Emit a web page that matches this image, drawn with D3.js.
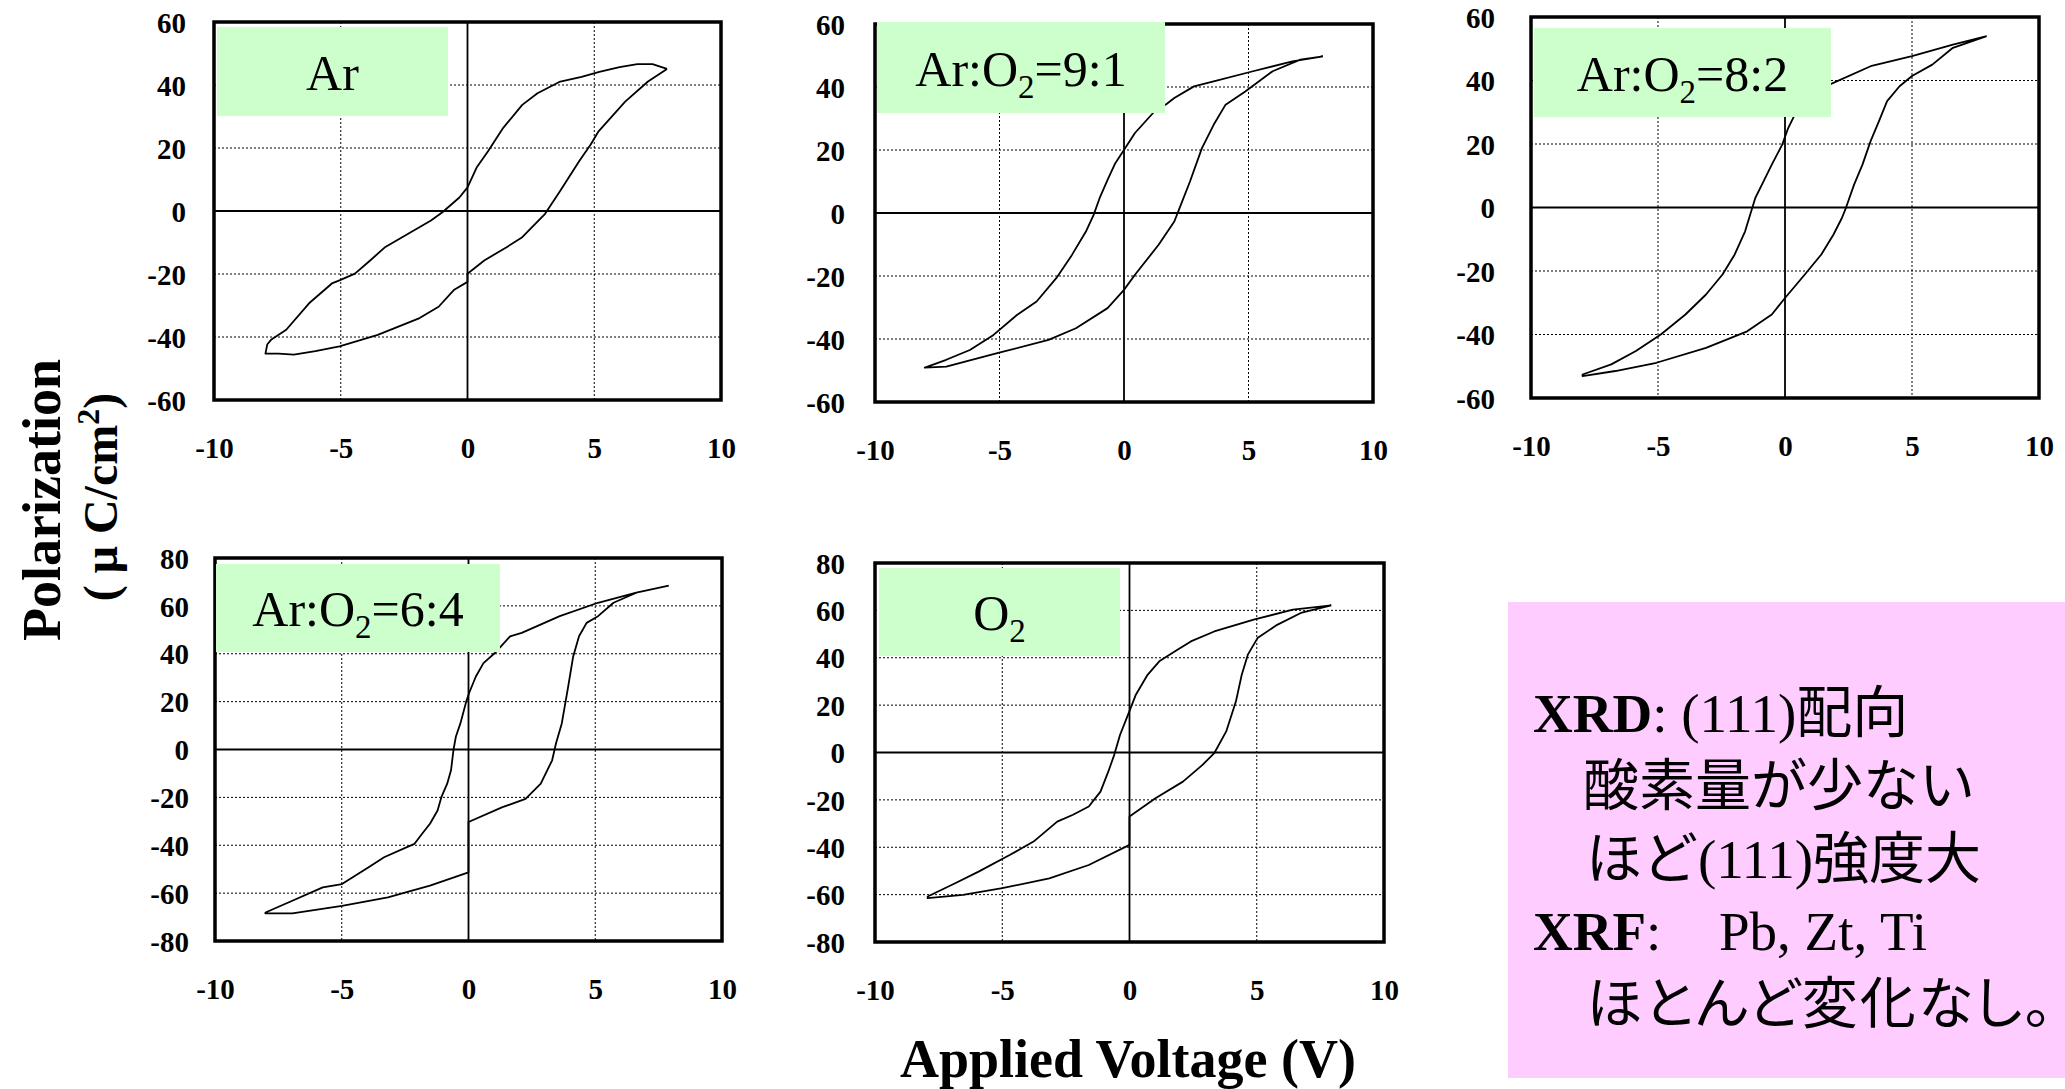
<!DOCTYPE html>
<html><head><meta charset="utf-8">
<script src="https://cdn.jsdelivr.net/npm/d3@7"></script>
<style>html,body{margin:0;padding:0;background:#fff;overflow:hidden}</style>
</head><body>
<svg id="c" width="2065" height="1089"></svg>
<script>
// ---------- data ----------
const xTicks = [-10, -5, 0, 5, 10];
const yTicksTop = [-60, -40, -20, 0, 20, 40, 60];
const yTicksBottom = [-80, -60, -40, -20, 0, 20, 40, 60, 80];

// [voltage V, polarization uC/cm2]; upper = descending branch, lower = ascending branch
const arUpper = [[7.87,45.1],[7.3,46.6],[6.7,46.6],[6.0,45.7],[5.2,44.2],[4.5,42.6],[3.66,41.1],[2.76,37.4],[2.16,33.7],[1.41,26.4],[0.81,19.0],[0.36,13.8],[0,7.5],[-0.32,4.3],[-0.99,-0.4],[-1.44,-3.0],[-2.34,-7.2],[-3.24,-11.4],[-3.84,-15.7],[-4.44,-19.9],[-5.05,-22.0],[-5.35,-23.0],[-6.25,-29.3],[-7.15,-37.7],[-7.75,-40.9],[-7.9,-42.4],[-7.97,-45.3]];
const arLower = [[-7.97,-45.3],[-7.45,-45.3],[-6.85,-45.6],[-6.0,-44.5],[-5.05,-43.0],[-3.54,-39.3],[-1.89,-34.0],[-1.14,-30.4],[-0.54,-25.1],[0,-22.5],[0,-19.9],[0.66,-15.7],[1.56,-11.4],[2.16,-8.3],[3.06,-0.9],[3.66,6.4],[4.41,15.9],[4.86,21.1],[5.17,25.3],[6.22,34.7],[7.12,41.1],[7.87,45.1]];

const o91Upper = [[7.99,49.7],[6.76,48.1],[5.18,45.0],[3.6,41.8],[2.81,40.2],[2.02,36.5],[1.71,34.6],[1.23,32.3],[0.44,25.4],[0.05,20.6],[-0.35,15.8],[-0.66,10.5],[-0.98,4.7],[-1.22,-0.6],[-1.53,-5.9],[-2.09,-13.3],[-2.72,-20.7],[-3.51,-28.1],[-4.3,-32.4],[-5.24,-38.7],[-6.19,-43.5],[-7.14,-46.6],[-8.0,-49.1]];
const o91Lower = [[-8.0,-49.1],[-7.14,-48.8],[-5.09,-44.5],[-3.03,-40.3],[-1.93,-36.6],[-0.66,-30.2],[0,-24.4],[0.44,-19.6],[1.39,-10.1],[2.02,-2.7],[2.18,0.5],[2.65,10.0],[3.13,20.6],[3.6,28.0],[4.08,34.4],[4.87,38.6],[5.97,45.0],[7.08,48.7],[7.99,49.7]];

const o82Upper = [[7.94,54.0],[6.61,51.3],[5.0,47.7],[3.37,44.5],[1.75,38.7],[0.94,34.5],[0.45,30.3],[0.13,25.1],[-0.11,19.8],[-0.52,13.5],[-0.84,8.3],[-1.17,3.0],[-1.33,-1.2],[-1.57,-7.5],[-1.98,-14.8],[-2.46,-21.1],[-3.11,-27.4],[-3.92,-33.7],[-4.89,-40.0],[-5.87,-45.2],[-6.84,-49.4],[-7.97,-52.6]];
const o82Lower = [[-7.97,-53.1],[-6.68,-51.5],[-5.06,-48.9],[-3.11,-44.2],[-1.49,-39.0],[-0.52,-33.7],[0,-28.5],[0.78,-21.1],[1.43,-14.8],[1.91,-8.5],[2.24,-3.3],[2.4,-0.1],[2.72,7.2],[3.05,13.5],[3.37,20.9],[3.7,27.2],[4.02,33.5],[4.51,38.2],[5.0,41.4],[5.8,45.0],[6.61,50.3],[7.94,54.0]];

const o64Upper = [[7.9,68.5],[6.62,65.5],[5.11,61.3],[3.6,55.7],[2.1,48.7],[1.64,47.3],[1.04,40.3],[0.59,36.1],[0.29,30.5],[0.02,23.5],[-0.09,20.0],[-0.32,10.9],[-0.5,5.3],[-0.59,0.0],[-0.69,-8.7],[-0.84,-14.3],[-1.07,-19.9],[-1.22,-25.5],[-1.52,-31.0],[-1.83,-35.2],[-2.13,-39.4],[-2.43,-40.8],[-3.33,-45.0],[-3.94,-49.2],[-4.99,-56.2],[-5.75,-57.6],[-6.95,-63.2],[-8.01,-68.1]];
const o64Lower = [[-8.01,-68.5],[-6.95,-68.5],[-4.99,-65.3],[-3.18,-61.8],[-1.52,-56.9],[0,-51.3],[0,-30.3],[1.34,-24.1],[2.25,-20.6],[2.85,-14.3],[3.3,-4.5],[3.45,2.5],[3.68,10.9],[3.91,24.9],[4.13,38.9],[4.36,47.3],[4.66,52.9],[5.11,55.7],[5.72,61.3],[6.62,65.5],[7.9,68.5]];

const o2Upper = [[7.93,62.1],[6.42,60.3],[4.88,56.1],[3.33,51.1],[2.41,46.9],[1.79,42.7],[1.17,38.5],[0.71,32.8],[0.25,24.4],[-0.06,15.9],[-0.37,7.5],[-0.6,-1.0],[-0.83,-8.0],[-1.14,-16.5],[-1.6,-22.8],[-2.22,-26.3],[-2.84,-29.2],[-3.77,-37.6],[-4.69,-43.2],[-5.93,-50.3],[-6.85,-55.2],[-7.93,-60.8]];
const o2Lower = [[-7.93,-61.5],[-6.54,-60.1],[-5.0,-57.3],[-3.15,-53.1],[-1.6,-47.5],[0,-39.0],[0,-27.0],[1.02,-19.3],[2.1,-12.3],[2.87,-5.2],[3.33,-0.3],[3.8,8.9],[4.18,21.5],[4.41,32.8],[4.65,41.3],[5.03,48.3],[5.8,53.9],[6.73,58.9],[7.93,62.1]];

const panelLabels = [["Ar"], ["Ar:O", "2", "=9:1"], ["Ar:O", "2", "=8:2"], ["Ar:O", "2", "=6:4"], ["O", "2"]];
const xTitle = "Applied Voltage (V)";
const yTitle1 = "Polarization";
const noteLines = [
  [["XRD","b"],[": (111)","r"],["配向","j"]],
  [["酸素量が少ない","j"]],
  [["ほど","j"],["(111)","r"],["強度大","j"]],
  [["XRF","b"],[":","r"],["Pb, Zt, Ti","r2"]],
  [["ほとんど変化なし。","jp"]]
];

// ---------- layout ----------
const serif = "'Liberation Serif','Times New Roman',serif";
const jp = "'Noto Sans CJK JP','Noto Sans CJK SC',sans-serif";
const panels = [
  {frame:[214,22,721,400], box:[217,27,448,116], ydom:[-60,60], yt:yTicksTop, up:arUpper, low:arLower, gap:28},
  {frame:[875,24,1373,402], box:[877,22,1165,113], ydom:[-60,60], yt:yTicksTop, up:o91Upper, low:o91Lower, gap:30},
  {frame:[1531,17,2039,398], box:[1534,28,1831,117], ydom:[-60,60], yt:yTicksTop, up:o82Upper, low:o82Lower, gap:36},
  {frame:[215,558,722,941], box:[216,564,500,652], ydom:[-80,80], yt:yTicksBottom, up:o64Upper, low:o64Lower, gap:26},
  {frame:[875,563,1384,942], box:[879,568,1120,656], ydom:[-80,80], yt:yTicksBottom, up:o2Upper, low:o2Lower, gap:30}
];
const fmt = d => String(d); // plain hyphen-minus like the reference

const svg = d3.select('#c');
svg.append('rect').attr('width',2065).attr('height',1089).attr('fill','#fff');

panels.forEach((p, i) => {
  const [x0,y0,x1,y1] = p.frame;
  const x = d3.scaleLinear().domain([-10,10]).range([x0,x1]);
  const y = d3.scaleLinear().domain(p.ydom).range([y1,y0]);
  const g = svg.append('g');

  // dotted grid
  g.selectAll('.gx').data(xTicks.filter(t => t !== 0 && Math.abs(t) !== 10)).join('line')
    .attr('x1', d => x(d)).attr('x2', d => x(d)).attr('y1', y0).attr('y2', y1)
    .attr('stroke','#000').attr('stroke-width',1).attr('stroke-dasharray','2,2');
  g.selectAll('.gy').data(p.yt.filter(t => t !== 0 && t !== p.ydom[0] && t !== p.ydom[1])).join('line')
    .attr('y1', d => y(d)).attr('y2', d => y(d)).attr('x1', x0).attr('x2', x1)
    .attr('stroke','#000').attr('stroke-width',1).attr('stroke-dasharray','2,2');
  // zero lines
  g.append('line').attr('x1', x(0)).attr('x2', x(0)).attr('y1', y0).attr('y2', y1).attr('stroke','#000').attr('stroke-width',1.8);
  g.append('line').attr('y1', y(0)).attr('y2', y(0)).attr('x1', x0).attr('x2', x1).attr('stroke','#000').attr('stroke-width',1.8);

  // loop
  const line = d3.line().x(d => x(d[0])).y(d => y(d[1]));
  g.append('path').attr('d', line(p.up.concat(p.low))).attr('fill','none')
    .attr('stroke','#000').attr('stroke-width',1.8).attr('stroke-linejoin','round');

  // frame
  g.append('rect').attr('x',x0).attr('y',y0).attr('width',x1-x0).attr('height',y1-y0)
    .attr('fill','none').attr('stroke','#000').attr('stroke-width',3.5);

  // axes
  const ax = g.append('g').attr('transform',`translate(0,${y1})`)
    .call(d3.axisBottom(x).tickValues(xTicks).tickSize(0).tickFormat(fmt));
  ax.select('.domain').remove();
  ax.selectAll('text').attr('y',58).attr('dy',0)
    .attr('font-family',serif).attr('font-weight','bold').attr('font-size',29).attr('fill','#000');

  const ay = g.append('g').attr('transform',`translate(${x0},0)`)
    .call(d3.axisLeft(y).tickValues(p.yt).tickSize(0).tickPadding(p.gap).tickFormat(fmt));
  ay.select('.domain').remove();
  ay.selectAll('text').attr('dy','0.35em')
    .attr('font-family',serif).attr('font-weight','bold').attr('font-size',29).attr('fill','#000');

  // label box
  const [bx0,by0,bx1,by1] = p.box;
  g.append('rect').attr('x',bx0).attr('y',by0).attr('width',bx1-bx0).attr('height',by1-by0).attr('fill','#CCFFCC');
  const t = g.append('text').attr('x',(bx0+bx1)/2).attr('y',(by0+by1)/2+18)
    .attr('text-anchor','middle').attr('font-family',serif).attr('font-size',50).attr('fill','#000');
  const parts = panelLabels[i];
  parts.forEach((s, k) => {
    const ts = t.append('tspan').text(s);
    if (k === 1) ts.attr('font-size',33).attr('dy',12);
    if (k === 2) ts.attr('dy',-12);
  });
});

// axis titles
svg.append('text').attr('x',1128).attr('y',1077).attr('text-anchor','middle')
  .attr('font-family',serif).attr('font-weight','bold').attr('font-size',54).text(xTitle);

svg.append('text').attr('transform','translate(60,500) rotate(-90)').attr('text-anchor','middle')
  .attr('font-family',serif).attr('font-weight','bold').attr('font-size',54).text(yTitle1);
const yt2 = svg.append('text').attr('transform','translate(117,497) rotate(-90)').attr('text-anchor','middle')
  .attr('font-family',serif).attr('font-weight','bold').attr('font-size',48);
yt2.append('tspan').text('( μ C/cm');
yt2.append('tspan').attr('font-size',32).attr('dy',-18).text('2');
yt2.append('tspan').attr('dy',18).text(')');

// note box
svg.append('rect').attr('x',1508).attr('y',602).attr('width',2065-1508).attr('height',1078-602).attr('fill','#FFCCFF');
const noteX = [1533, 1583, 1586, 1533, 1586];
const noteY = [732, 805, 878, 950, 1023];
noteLines.forEach((ln, i) => {
  const t = svg.append('text').attr('x', noteX[i]).attr('y', noteY[i]).attr('fill','#000');
  ln.forEach(([s, f]) => {
    const ts = t.append('tspan').text(s);
    if (f === 'b') ts.attr('font-family',serif).attr('font-weight','bold').attr('font-size',55);
    else if (f === 'r') ts.attr('font-family',serif).attr('font-size',55);
    else if (f === 'r2') ts.attr('font-family',serif).attr('font-size',55).attr('x',1719);
    else if (f === 'jp') ts.attr('font-family',jp).attr('font-size',56)
      .style('font-feature-settings',"'palt' 1").attr('letter-spacing',2);
    else ts.attr('font-family',jp).attr('font-size',56);
  });
});
</script>
</body></html>
